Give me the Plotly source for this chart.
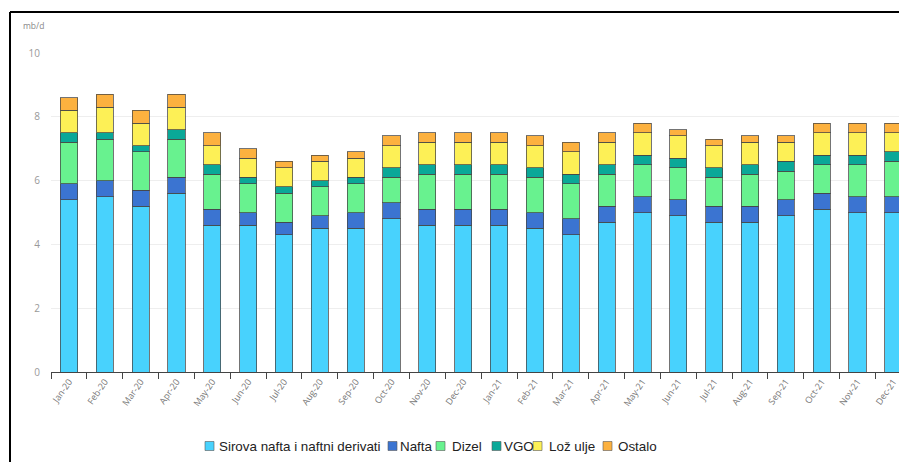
import plotly.graph_objects as go

# --- data (mb/d) ---
months = [
    "Jan-20", "Feb-20", "Mar-20", "Apr-20", "May-20", "Jun-20",
    "Jul-20", "Aug-20", "Sep-20", "Oct-20", "Nov-20", "Dec-20",
    "Jan-21", "Feb-21", "Mar-21", "Apr-21", "May-21", "Jun-21",
    "Jul-21", "Aug-21", "Sep-21", "Oct-21", "Nov-21", "Dec-21",
]
sirova = [5.4, 5.5, 5.2, 5.6, 4.6, 4.6, 4.3, 4.5, 4.5, 4.8, 4.6, 4.6,
          4.6, 4.5, 4.3, 4.7, 5.0, 4.9, 4.7, 4.7, 4.9, 5.1, 5.0, 5.0]
nafta = [0.5, 0.5, 0.5, 0.5, 0.5, 0.4, 0.4, 0.4, 0.5, 0.5, 0.5, 0.5,
         0.5, 0.5, 0.5, 0.5, 0.5, 0.5, 0.5, 0.5, 0.5, 0.5, 0.5, 0.5]
dizel = [1.3, 1.3, 1.2, 1.2, 1.1, 0.9, 0.9, 0.9, 0.9, 0.8, 1.1, 1.1,
         1.1, 1.1, 1.1, 1.0, 1.0, 1.0, 0.9, 1.0, 0.9, 0.9, 1.0, 1.1]
vgo = [0.3, 0.2, 0.2, 0.3, 0.3, 0.2, 0.2, 0.2, 0.2, 0.3, 0.3, 0.3,
       0.3, 0.3, 0.3, 0.3, 0.3, 0.3, 0.3, 0.3, 0.3, 0.3, 0.3, 0.3]
loz_ulje = [0.7, 0.8, 0.7, 0.7, 0.6, 0.6, 0.6, 0.6, 0.6, 0.7, 0.7, 0.7,
            0.7, 0.7, 0.7, 0.7, 0.7, 0.7, 0.7, 0.7, 0.6, 0.7, 0.7, 0.6]
ostalo = [0.4, 0.4, 0.4, 0.4, 0.4, 0.3, 0.2, 0.2, 0.2, 0.3, 0.3, 0.3,
          0.3, 0.3, 0.3, 0.3, 0.3, 0.2, 0.2, 0.2, 0.2, 0.3, 0.3, 0.3]

series = [
    ("Sirova nafta i naftni derivati", sirova, "#48D2FD"),
    ("Nafta", nafta, "#3B74D1"),
    ("Dizel", dizel, "#68F28F"),
    ("VGO", vgo, "#0AA898"),
    ("Lož ulje", loz_ulje, "#FDF056"),
    ("Ostalo", ostalo, "#FCB13F"),
]
# legend layout (page px): square left edge, text left edge
legend_sq_x = [205, 388, 436, 492, 533, 603]
legend_txt_x = [217, 398, 450, 502, 547, 616]

fig = go.Figure()
for name, vals, color in series:
    fig.add_trace(go.Bar(
        x=months, y=vals, name=name, showlegend=False,
        marker=dict(color=color, line=dict(color="rgba(70,70,70,0.75)", width=1)),
        width=0.48,
    ))

# the page body has an 8px margin, so the figure is shifted by 8px
OFF = 8
W, H = 907 - OFF, 462 - OFF
# plot area on the page: x 51..907, y 53..372
L, R, T, B = 51 - OFF, 0, 53 - OFF, 462 - 372
pw, ph = W - L - R, H - T - B


def px_x(p):
    return (p - OFF - L) / pw


def px_y(p):
    return (H - B - (p - OFF)) / ph


shapes = [
    dict(type="line", xref="paper", yref="paper",
         x0=px_x(10), x1=px_x(10), y0=px_y(470), y1=px_y(12),
         line=dict(color="black", width=2)),
    dict(type="line", xref="paper", yref="paper",
         x0=px_x(10), x1=px_x(915), y0=px_y(12), y1=px_y(12),
         line=dict(color="black", width=2)),
]
annotations = [dict(
    text="mb/d", xref="paper", yref="paper", x=px_x(21), y=px_y(26),
    xanchor="left", yanchor="middle", showarrow=False,
    font=dict(family="Open Sans, sans-serif", size=8.5, color="#888"),
)]
for (name, _, color), sx, tx in zip(series, legend_sq_x, legend_txt_x):
    shapes.append(dict(
        type="rect", xref="paper", yref="paper",
        x0=px_x(sx), x1=px_x(sx + 9), y0=px_y(450.5), y1=px_y(441.5),
        fillcolor=color, line=dict(color="rgba(90,90,90,0.6)", width=1),
    ))
    annotations.append(dict(
        text=name, xref="paper", yref="paper", x=px_x(tx), y=px_y(446),
        xanchor="left", yanchor="middle", showarrow=False,
        font=dict(family="Liberation Sans, Arial, sans-serif", size=13.4, color="#222"),
    ))

fig.update_layout(
    width=W, height=H,
    margin=dict(l=L, r=R, t=T, b=B),
    barmode="stack",
    plot_bgcolor="white", paper_bgcolor="white",
    font=dict(family="Liberation Sans, Arial, sans-serif", color="#333"),
    xaxis=dict(
        type="category", range=[-0.5, 23.38],
        showline=True, linecolor="#444", linewidth=1,
        ticks="outside", tickson="boundaries", ticklen=6, tickcolor="#444",
        tickangle=-55, tickfont=dict(family="Open Sans, sans-serif", size=9, color="#777"),
        showgrid=False,
    ),
    yaxis=dict(
        range=[0, 10], dtick=2, showgrid=True, gridcolor="#EEEEEE", gridwidth=1,
        zeroline=False, showline=False,
        tickfont=dict(family="Open Sans, sans-serif", size=10, color="#999"),
        ticklabelstandoff=10,
    ),
    annotations=annotations,
    shapes=shapes,
)

fig.write_html("out.html")
